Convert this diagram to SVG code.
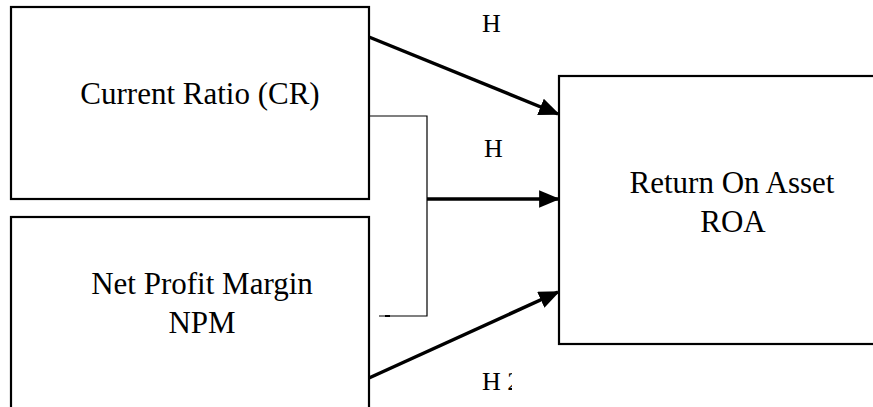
<svg xmlns="http://www.w3.org/2000/svg" width="873" height="407" viewBox="0 0 873 407">
  <style>
    .box { fill: #fff; stroke: #000; stroke-width: 2.2; }
    .lbl { font-family: "Liberation Serif", "Times New Roman", serif; font-size: 31px; fill: #000; text-anchor: middle; }
    .h { font-family: "Liberation Serif", "Times New Roman", serif; font-size: 26px; fill: #000; }
    .arrow { stroke: #000; stroke-width: 3.5; fill: none; marker-end: url(#head); }
    .thin { stroke: #000; stroke-width: 1.2; fill: none; }
  </style>
  <defs>
    <marker id="head" markerWidth="6" markerHeight="5" refX="5.4" refY="2.5" orient="auto" markerUnits="strokeWidth">
      <path d="M0,0 L6,2.5 L0,5 z" fill="#000"/>
    </marker>
    <clipPath id="cutH3">
      <rect x="470" y="360" width="42" height="40"/>
    </clipPath>
  </defs>

  <rect width="873" height="407" fill="#fff"/>

  <g id="cr">
    <rect class="box" x="11" y="7" width="358" height="192"/>
    <text class="lbl" x="200" y="104">Current Ratio (CR)</text>
  </g>

  <g id="npm">
    <rect class="box" x="11" y="217" width="358" height="200"/>
    <text class="lbl" x="202" y="294">Net Profit Margin</text>
    <text class="lbl" x="202" y="333">NPM</text>
  </g>

  <g id="roa">
    <rect class="box" x="559" y="76" width="330" height="268"/>
    <text class="lbl" x="732" y="193">Return On Asset</text>
    <text class="lbl" x="733" y="232">ROA</text>
  </g>

  <g id="connectors">
    <line class="arrow" x1="369" y1="37" x2="558" y2="114"/>
    <polyline class="thin" points="369,116 427,116 427,316 379,316"/>
    <line x1="385" y1="316" x2="390" y2="316" stroke="#000" stroke-width="2"/>
    <line class="arrow" x1="427" y1="199" x2="558" y2="199"/>
    <line class="arrow" x1="369" y1="378" x2="558" y2="292"/>
  </g>

  <g id="labels">
    <text class="h" x="482" y="32">H</text>
    <text class="h" x="484" y="157">H</text>
    <text class="h" x="482" y="390" clip-path="url(#cutH3)">H 2</text>
  </g>
</svg>
